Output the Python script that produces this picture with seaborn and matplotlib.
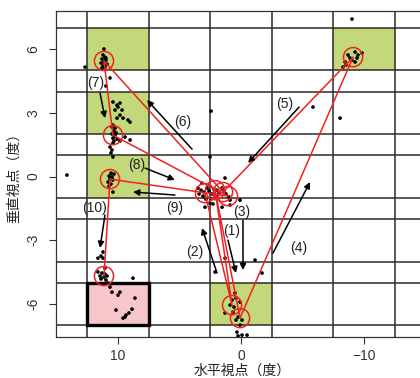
import numpy as np
import pandas as pd
import seaborn as sns
import matplotlib.pyplot as plt
from matplotlib.patches import Rectangle

# cell boundaries of the stimulus grid (deg)
col_edges = [12.5, 7.5, 2.5, -2.5, -7.5, -12.5]
row_edges = [7, 5, 4, 2, 1, -1, -2, -4, -5, -7]

# green target cells (x0, x1, y0, y1)
green_cells = [(12.5, 7.5, 5, 7), (12.5, 7.5, 2, 4), (12.5, 7.5, -1, 1),
               (2.5, -2.5, -7, -5), (-7.5, -12.5, 5, 7)]
pink_cell = (12.5, 7.5, -7, -5)

# raw gaze samples
gaze_x = [11.14, 11.22, 11.06, 11.30, 10.98, 11.14, 11.38, 10.89, 11.22, 11.06, 11.30, 10.98,
          12.68, 10.65, 10.98,
          10.41, 10.08, 9.84, 10.00, 10.24, 9.67, 9.84, 9.59, 10.08, 9.19, 10.41, 10.49, 10.24,
          10.33, 10.16, 10.49, 10.24, 10.41, 10.08, 10.33, 9.02, 9.43, 9.84, 10.41, 10.65,
          10.49, 10.57, 10.41, 9.02,
          10.57, 10.33, 10.73, 10.49, 10.65, 10.41, 10.81, 10.57, 10.73, 10.41, 14.15,
          11.22, 11.63, 11.38, 11.22, 11.06,
          11.63, 11.30, 11.06, 11.46, 11.14, 10.89, 11.38, 10.98,
          8.78, 10.81, 10.65, 10.49, 9.84, 10.00, 8.62, 10.16, 8.86, 9.11, 9.43, 9.59, 9.35,
          1.30, 3.17, 3.50, 3.25, 3.01, 3.41, 3.09, 2.76, 2.60, 2.36, 2.20, 1.95, 1.79, 2.03,
          1.54, 1.38, 1.22, 0.98, 2.44, 2.85, 0.89, 0.08, 2.93, 2.28, 1.54, 0.89, 2.52,
          2.44, 2.52, 1.30, -1.14, -5.85, -8.05, -9.02, 2.11, -1.71,
          0.49, 0.08, 0.73, 0.41, 0.89, 0.57, 1.30, 0.65, 0.24, -0.08, 0.41, 0.08, 0.33,
          -0.08, -0.49, 0.24,
          -8.29, -8.46, -8.70, -9.27, -9.51, -9.84, -9.27, -8.86, -9.43, -9.02, -8.54]
gaze_y = [6.00, 5.72, 5.62, 5.53, 5.48, 5.39, 5.34, 5.29, 5.20, 5.15, 5.11, 5.58,
          5.15, 4.64, 4.26,
          3.51, 3.36, 3.46, 3.27, 3.13, 3.13, 2.89, 2.75, 2.75, 2.66, 2.42, 2.33, 2.28,
          2.14, 2.05, 2.00, 1.91, 1.81, 1.76, 1.67, 1.72, 1.86, 1.67, 1.58, 1.39,
          1.25, 1.11, 0.92, 2.56,
          0.16, 0.12, 0.02, -0.02, -0.12, -0.16, -0.26, -0.35, -0.45, -0.73, 0.07,
          -3.55, -3.84, -3.74, -3.84, -4.31,
          -4.49, -4.54, -4.59, -4.68, -4.73, -4.68, -4.82, -4.87,
          -4.78, -5.01, -5.20, -5.44, -5.44, -5.58, -5.72, -6.28, -6.24, -6.42, -6.61, -6.66, -6.52,
          -0.07, -0.31, -0.54, -0.64, -0.73, -0.82, -0.92, -0.54, -0.68, -0.82, -0.59, -0.64, -0.78,
          -0.92, -0.54, -0.68, -0.82, -0.96, -1.06, -1.06, -1.11, -1.11, -1.44, -1.29, -1.44,
          -1.34, -1.25,
          3.08, 0.92, -3.84, -3.93, 3.27, 2.75, 7.41, -4.49, -4.54,
          -5.48, -5.91, -5.81, -5.72, -6.05, -6.14, -6.42, -6.38, -6.61, -6.75, -6.75, -6.99, -7.32,
          -7.46, -7.46, -7.50,
          5.15, 5.39, 5.72, 5.86, 5.72, 5.81, 5.39, 5.58, 5.58, 5.48, 5.25]

# fixations in scan order
fix_x = [2.93, 0.73, 2.11, 0.08, -9.11, 1.46, 11.14, 10.41, 1.06, 10.65, 11.14]
fix_y = [-0.78, -6.05, -0.64, -6.66, 5.62, -0.73, 5.44, 1.95, -0.92, -0.12, -4.68]

# saccade arrows: label, start, end, label position
arrow_labels = ["(1)", "(2)", "(3)", "(4)", "(5)", "(6)", "(7)", "(8)", "(9)", "(10)"]
arrow_start = [(1.06, -2.99), (1.95, -4.54), (-0.16, -2.05), (-2.60, -3.60), (-4.72, 3.27),
               (3.98, 1.29), (11.46, 3.93), (7.80, 0.40), (5.37, -0.87), (11.06, -1.81)]
arrow_end = [(0.41, -4.54), (3.17, -2.42), (-0.16, -4.40), (-5.61, -0.26), (-0.57, 0.64),
             (7.64, 3.60), (11.06, 2.75), (5.37, -0.16), (8.78, -0.73), (11.46, -3.36)]
label_pos = [(0.73, -2.58), (3.74, -3.55), (-0.08, -1.67), (-4.72, -3.36), (-3.58, 3.41),
             (4.72, 2.56), (11.79, 4.40), (8.46, 0.54), (5.37, -1.48), (11.87, -1.48)]

sns.set_style("white")
plt.rcParams['font.family'] = ['Liberation Sans', 'Noto Sans CJK JP', 'DejaVu Sans']

fig = plt.figure(figsize=(4.2, 3.78), dpi=100)
ax = fig.add_axes([56 / 420, 1 - 337 / 378, 372 / 420, 326 / 378])

for x0, x1, y0, y1 in green_cells:
    ax.add_patch(Rectangle((x1, y0), x0 - x1, y1 - y0, facecolor="#c3d87a",
                           edgecolor="none", zorder=0))
x0, x1, y0, y1 = pink_cell
ax.add_patch(Rectangle((x1, y0), x0 - x1, y1 - y0, facecolor="#f7c6ca",
                       edgecolor="none", zorder=0))

for v in col_edges:
    ax.axvline(v, color="#2b2b2b", lw=1.1, zorder=1)
for h in row_edges:
    ax.axhline(h, color="#2b2b2b", lw=1.1, zorder=1)

ax.add_patch(Rectangle((x1, y0), x0 - x1, y1 - y0, facecolor="none",
                       edgecolor="black", lw=2.4, zorder=2))

gaze = pd.DataFrame({"x": gaze_x, "y": gaze_y})
sns.scatterplot(data=gaze, x="x", y="y", color="black", s=7, edgecolor="none",
                ax=ax, zorder=3)

ax.plot(fix_x, fix_y, color="#ee2222", lw=1.1, zorder=4)
ax.scatter(fix_x, fix_y, s=190, facecolor="none", edgecolor="#ee2222", lw=1.1, zorder=5)

for lab, st, en, lp in zip(arrow_labels, arrow_start, arrow_end, label_pos):
    ax.annotate("", xy=en, xytext=st,
                arrowprops=dict(arrowstyle="-|>", color="black", lw=1.1,
                                mutation_scale=9, shrinkA=0, shrinkB=0), zorder=6)
    ax.text(lp[0], lp[1], lab, ha="center", va="center", fontsize=10,
            color="#222222", zorder=6)

ax.set_xlim(15.04, -15.2)
ax.set_ylim(-7.55, 7.79)
ax.set_xticks([10, 0, -10])
ax.set_yticks([-6, -3, 0, 3, 6])
ax.set_yticklabels(["-6", "-3", "0", "3", "6"], rotation=90, va="center")
ax.tick_params(axis="both", length=5, width=0.8, color="#333333", labelsize=10,
               labelcolor="#333333", direction="out", left=True, bottom=True)
ax.tick_params(axis="x", pad=4)
ax.tick_params(axis="y", pad=6)
for s in ["left", "top", "bottom"]:
    ax.spines[s].set_color("#333333")
    ax.spines[s].set_linewidth(0.9)
ax.spines["right"].set_visible(False)

ax.set_xlabel("水平視点（度）", fontsize=10, family="Noto Sans CJK JP", color="#222222")
ax.xaxis.set_label_coords(0.5, -0.104)
ax.xaxis.label.set_va("center")
ax.set_ylabel("垂直視点（度）", fontsize=10, family="Noto Sans CJK JP",
              color="#222222", labelpad=4)

fig.savefig("out.png", dpi=100)
